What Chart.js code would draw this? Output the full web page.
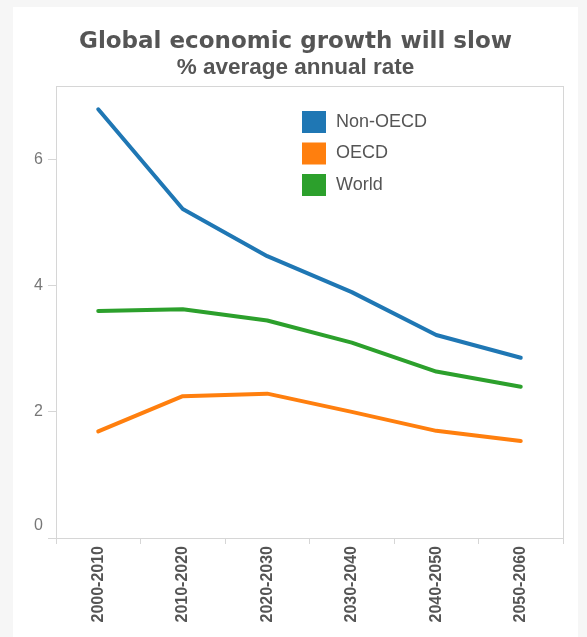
<!DOCTYPE html>
<html>
<head>
<meta charset="utf-8">
<script src="https://cdn.jsdelivr.net/npm/chart.js@4/dist/chart.umd.min.js"></script>
<style>
  html, body { margin: 0; padding: 0; background: #f6f6f6; }
  #card { position: absolute; left: 13px; top: 7px; width: 565px; height: 630px; background: #ffffff; }
  canvas { display: block; }
</style>
</head>
<body>
<div id="card"><canvas id="c" width="565" height="630"></canvas></div>
<script>
const categories = ["2000-2010", "2010-2020", "2020-2030", "2030-2040", "2040-2050", "2050-2060"];
const nonOecd = [6.8, 5.22, 4.47, 3.9, 3.22, 2.86];
const oecd = [1.69, 2.25, 2.29, 2.0, 1.7, 1.54];
const world = [3.6, 3.63, 3.45, 3.1, 2.64, 2.4];
const yTicks = [0, 2, 4, 6];
const titleText = "Global economic growth will slow";
const subtitleText = "% average annual rate";

const frame = {
  id: 'frame',
  beforeDatasetsDraw(chart) {
    const {ctx, chartArea: a} = chart;
    ctx.save();
    ctx.strokeStyle = '#d6d6d6';
    ctx.lineWidth = 1;
    ctx.strokeRect(Math.round(a.left) + 0.5, Math.round(a.top) + 0.5, Math.round(a.right - a.left), Math.round(a.bottom - a.top));
    ctx.restore();
  }
};

const legendBox = {
  id: 'legendBox',
  afterDraw(chart) {
    const {ctx, chartArea: a} = chart;
    ctx.save();
    ctx.font = '18px "Liberation Sans", Arial, sans-serif';
    ctx.textBaseline = 'middle';
    chart.data.datasets.forEach((ds, i) => {
      const x = a.left + 246;
      const y = a.top + 25 + i * 31.5;
      ctx.fillStyle = ds.borderColor;
      ctx.fillRect(x, y, 24, 22);
      ctx.fillStyle = '#555555';
      ctx.fillText(ds.label, x + 34, y + 11);
    });
    ctx.restore();
  }
};

new Chart(document.getElementById('c'), {
  type: 'line',
  data: {
    labels: categories,
    datasets: [
      { label: 'Non-OECD', data: nonOecd, borderColor: '#1f77b4', backgroundColor: '#1f77b4' },
      { label: 'OECD', data: oecd, borderColor: '#ff7f0e', backgroundColor: '#ff7f0e' },
      { label: 'World', data: world, borderColor: '#2ca02c', backgroundColor: '#2ca02c' }
    ]
  },
  options: {
    responsive: false,
    animation: false,
    devicePixelRatio: 1,
    layout: { padding: { left: 15, right: 15, top: 0, bottom: 0 } },
    elements: {
      line: { borderWidth: 4, tension: 0, borderCapStyle: 'round', borderJoinStyle: 'round' },
      point: { radius: 0, hoverRadius: 0 }
    },
    plugins: {
      legend: { display: false },
      tooltip: { enabled: false },
      title: {
        display: true,
        text: titleText,
        color: '#555555',
        font: { family: '"DejaVu Sans", sans-serif', size: 23, weight: 'bold' },
        padding: { top: 21, bottom: 1 }
      },
      subtitle: {
        display: true,
        text: subtitleText,
        color: '#555555',
        font: { family: '"Liberation Sans", Arial, sans-serif', size: 22.5, weight: 'bold', lineHeight: 1.0 },
        padding: { top: 0, bottom: 6.9 }
      }
    },
    scales: {
      x: {
        type: 'category',
        offset: true,
        grid: { offset: true, drawOnChartArea: false, drawTicks: true, tickLength: 6, color: '#d6d6d6' },
        border: { color: '#d6d6d6' },
        ticks: {
          minRotation: 90, maxRotation: 90, padding: 2,
          color: '#555555',
          font: { family: '"Liberation Sans", Arial, sans-serif', size: 16, weight: 'bold' }
        },
        afterFit(scale) { scale.height = 99; }
      },
      y: {
        min: 0, max: 7.17,
        grid: { drawOnChartArea: false, drawTicks: true, tickLength: 8, color: '#d6d6d6' },
        border: { color: '#d6d6d6' },
        afterBuildTicks(scale) { scale.ticks = yTicks.map(v => ({ value: v })); },
        ticks: {
          padding: 5,
          color: '#777777',
          font: { family: '"Liberation Sans", Arial, sans-serif', size: 16, lineHeight: 1.6 },
          callback: (v) => (v === 0 ? ['0', ''] : String(v))
        },
        afterFit(scale) { scale.width = 28; }
      }
    }
  },
  plugins: [frame, legendBox]
});
</script>
</body>
</html>
